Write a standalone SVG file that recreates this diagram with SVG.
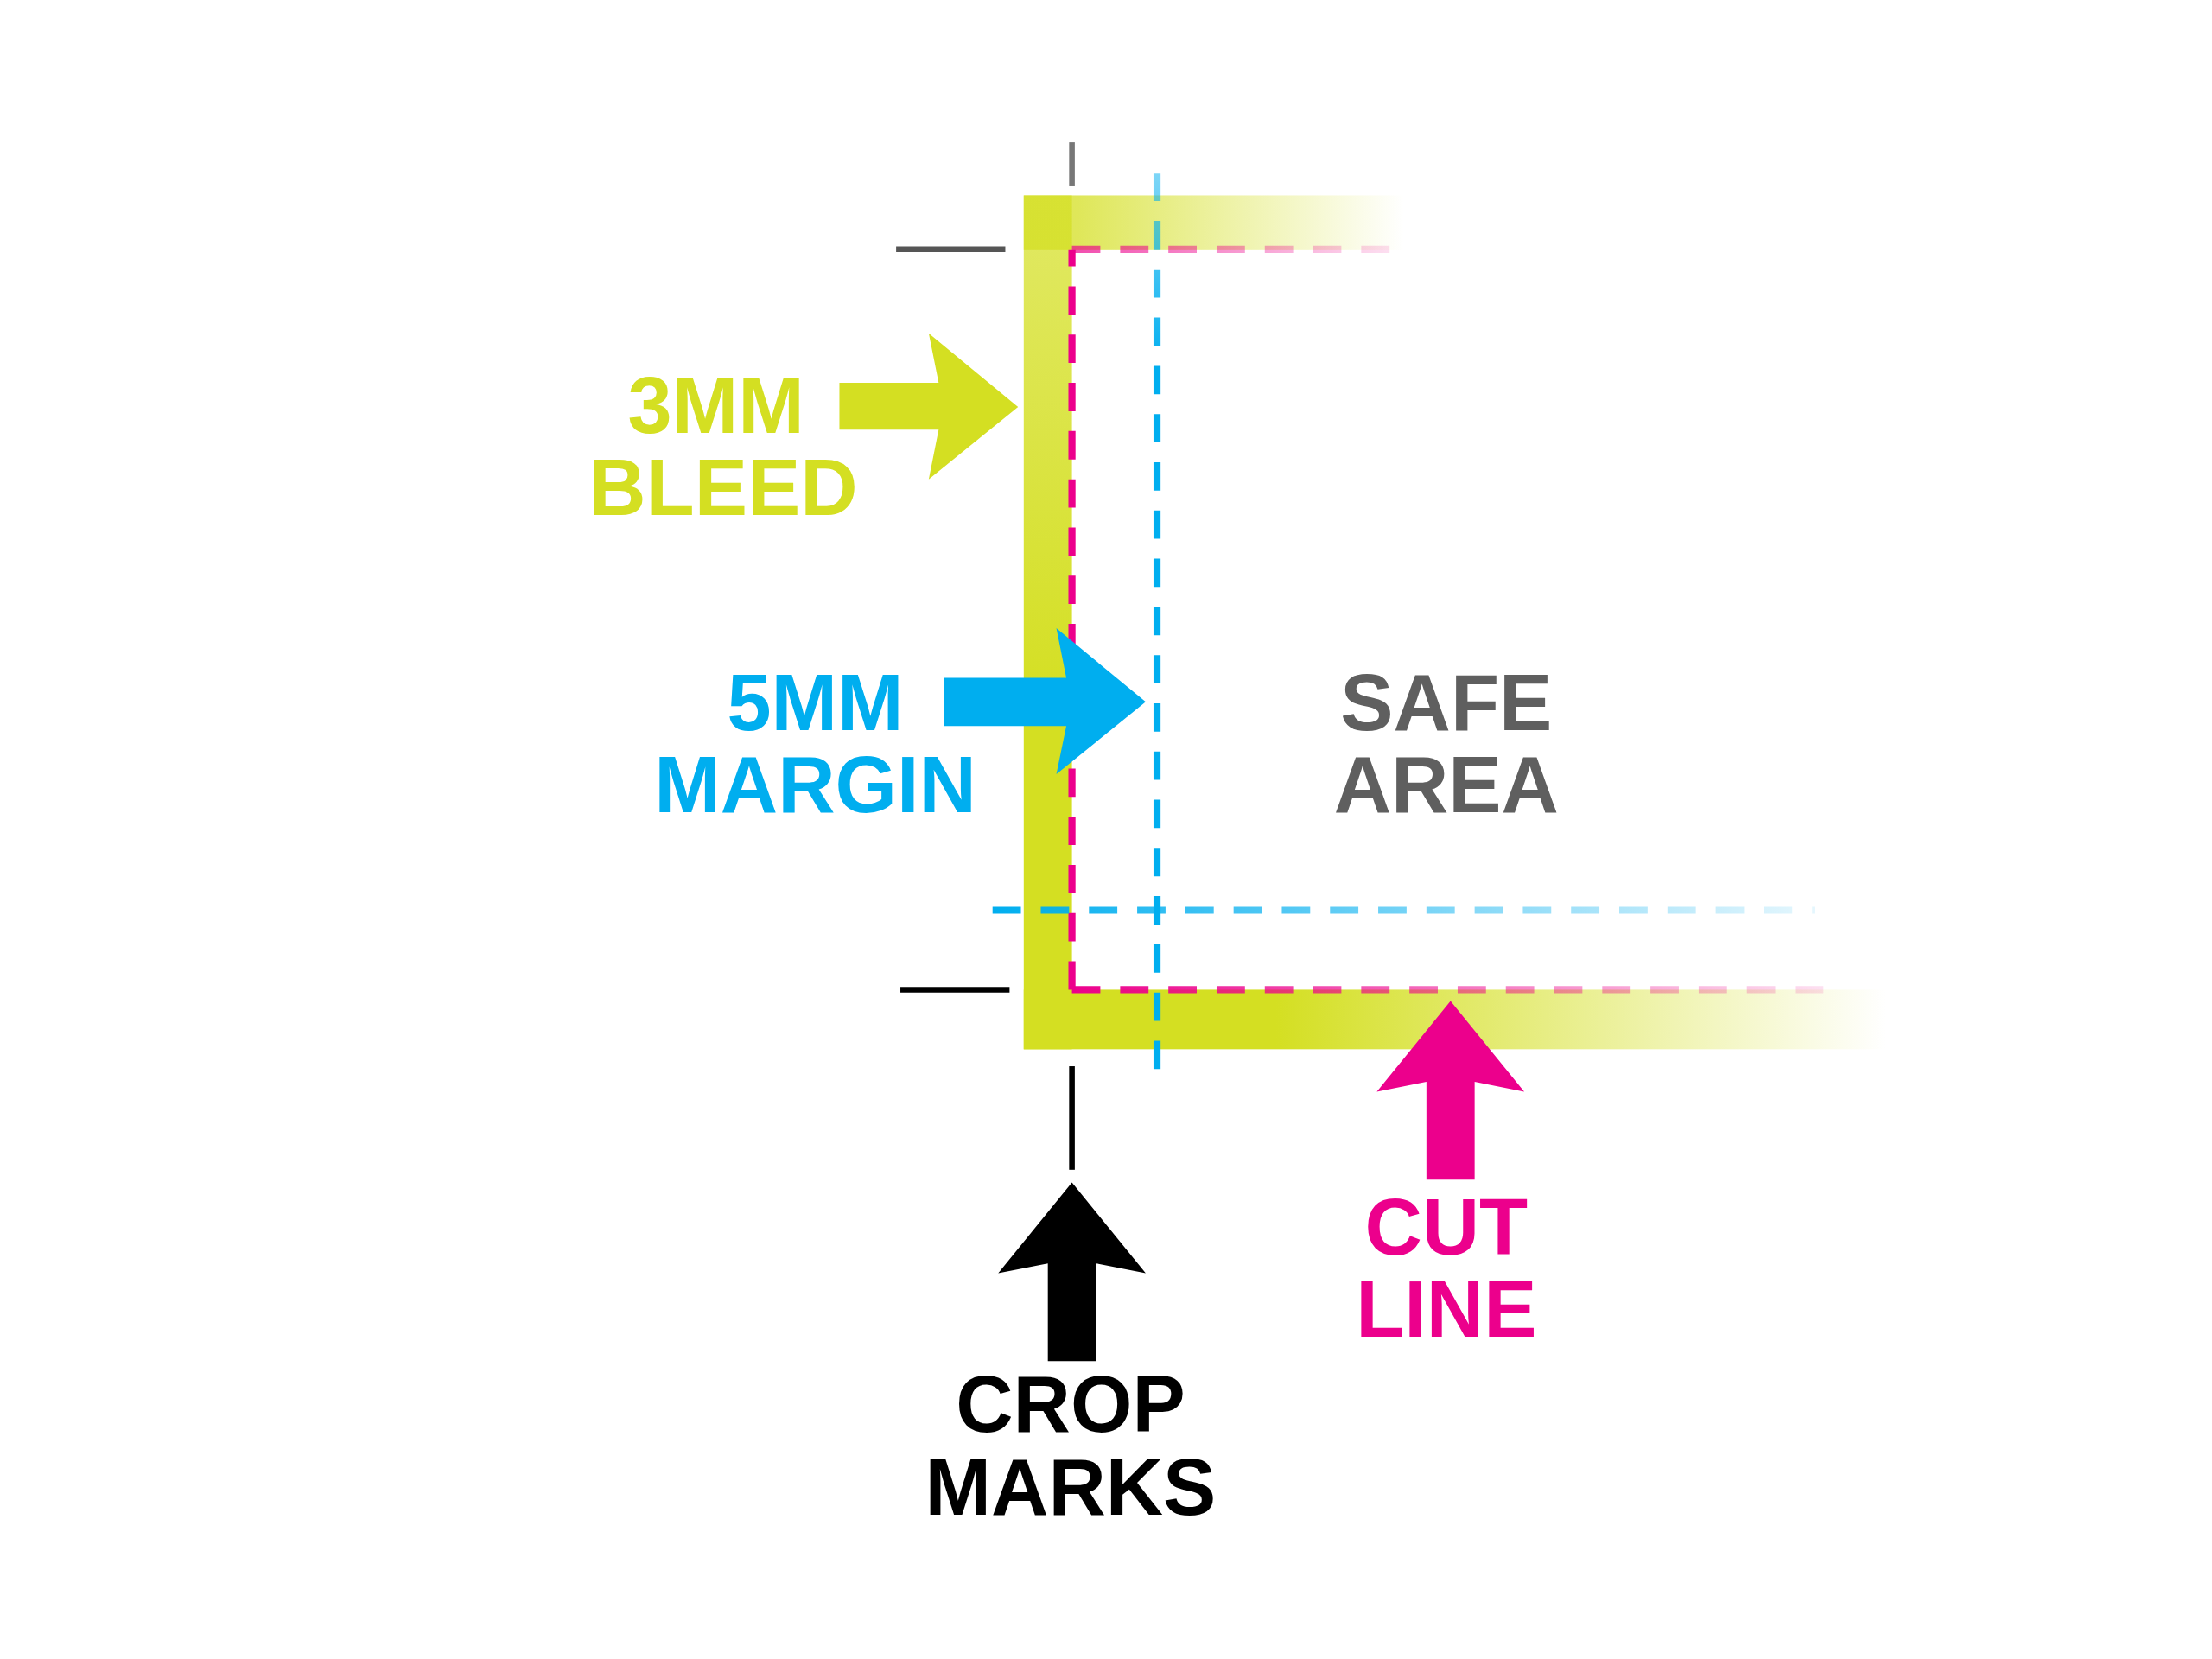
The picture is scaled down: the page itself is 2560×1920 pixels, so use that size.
<svg xmlns="http://www.w3.org/2000/svg" width="2560" height="1920" viewBox="0 0 2560 1920">
<defs>
<style>
.t{font-family:"Liberation Sans",Arial,sans-serif;font-weight:bold;font-size:56px;text-anchor:middle}
.dp{fill:none;stroke:#ec008c;stroke-width:5;stroke-dasharray:20 14}
.db{fill:none;stroke:#00aeef;stroke-width:5;stroke-dasharray:20 14}
</style>
<linearGradient id="gTop" gradientUnits="userSpaceOnUse" x1="760" y1="0" x2="990" y2="0">
<stop offset="0" stop-color="#d4df22" stop-opacity="0.75"/><stop offset="1" stop-color="#d4df22" stop-opacity="0"/></linearGradient>
<linearGradient id="gBot" gradientUnits="userSpaceOnUse" x1="900" y1="0" x2="1330" y2="0">
<stop offset="0" stop-color="#d4df22"/><stop offset="1" stop-color="#d4df22" stop-opacity="0"/></linearGradient>
<linearGradient id="gV" gradientUnits="userSpaceOnUse" x1="0" y1="140" x2="0" y2="500">
<stop offset="0" stop-color="#d4df22" stop-opacity="0.7"/><stop offset="1" stop-color="#d4df22"/></linearGradient>
<linearGradient id="pTop" gradientUnits="userSpaceOnUse" x1="756" y1="0" x2="990" y2="0">
<stop offset="0" stop-color="#ec008c" stop-opacity="0.7"/><stop offset="1" stop-color="#ec008c" stop-opacity="0.1"/></linearGradient>
<linearGradient id="pBot" gradientUnits="userSpaceOnUse" x1="756" y1="0" x2="1300" y2="0">
<stop offset="0" stop-color="#ec008c"/><stop offset="1" stop-color="#ec008c" stop-opacity="0.1"/></linearGradient>
<linearGradient id="bH" gradientUnits="userSpaceOnUse" x1="700" y1="0" x2="1280" y2="0">
<stop offset="0" stop-color="#00aeef"/><stop offset="1" stop-color="#00aeef" stop-opacity="0.1"/></linearGradient>
<linearGradient id="bV" gradientUnits="userSpaceOnUse" x1="0" y1="120" x2="0" y2="260">
<stop offset="0" stop-color="#00aeef" stop-opacity="0.5"/><stop offset="1" stop-color="#00aeef"/></linearGradient>
</defs>
<rect width="2560" height="1920" fill="#fff"/>
<g transform="scale(1.641)">
<g id="bleed">
<rect x="722" y="138" width="270" height="38" fill="url(#gTop)"/>
<rect x="722" y="698" width="610" height="42" fill="url(#gBot)"/>
<rect x="722" y="138" width="34" height="602" fill="url(#gV)"/>
</g>
<g id="lines">
<path class="dp" d="M756 698V176" stroke="#ec008c"/>
<path class="dp" d="M756 176H990" style="stroke:url(#pTop)"/>
<path class="dp" d="M756 698H1300" style="stroke:url(#pBot)"/>
<path class="db" d="M816 122V755" style="stroke:url(#bV)"/>
<path class="db" d="M700 642H1280" style="stroke:url(#bH)"/>
</g>
<g id="crop-marks" stroke-width="4">
<line x1="756" y1="100" x2="756" y2="131" stroke="#777"/>
<line x1="632" y1="176" x2="709" y2="176" stroke="#555"/>
<line x1="635" y1="698" x2="712" y2="698" stroke="#000"/>
<line x1="756" y1="752" x2="756" y2="825" stroke="#000"/>
</g>
<g id="arrows">
<polygon points="592,270 662,270 655,235 718,287 655,338 662,303 592,303" fill="#d4df22"/>
<polygon points="666,478 752,478 745,443 808,495 745,546 752,512 666,512" fill="#00aeef"/>
<polygon points="1006,832 1006,763 971,770 1023,706 1075,770 1040,763 1040,832" fill="#ec008c"/>
<polygon points="739,960 739,891 704,898 756,834 808,898 773,891 773,960" fill="#000"/>
</g>
<g id="labels" class="t">
<text x="505" y="305" fill="#d4df22">3MM</text>
<text x="510" y="363" fill="#d4df22">BLEED</text>
<text x="575" y="515" fill="#00aeef">5MM</text>
<text x="575" y="573" fill="#00aeef">MARGIN</text>
<text x="1020" y="515" fill="#5f5f5f">SAFE</text>
<text x="1020" y="573" fill="#5f5f5f">AREA</text>
<text x="1020" y="885" fill="#ec008c">CUT</text>
<text x="1020" y="943" fill="#ec008c">LINE</text>
<text x="755" y="1010" fill="#000">CROP</text>
<text x="755" y="1068" fill="#000">MARKS</text>
</g>
</g>
</svg>
